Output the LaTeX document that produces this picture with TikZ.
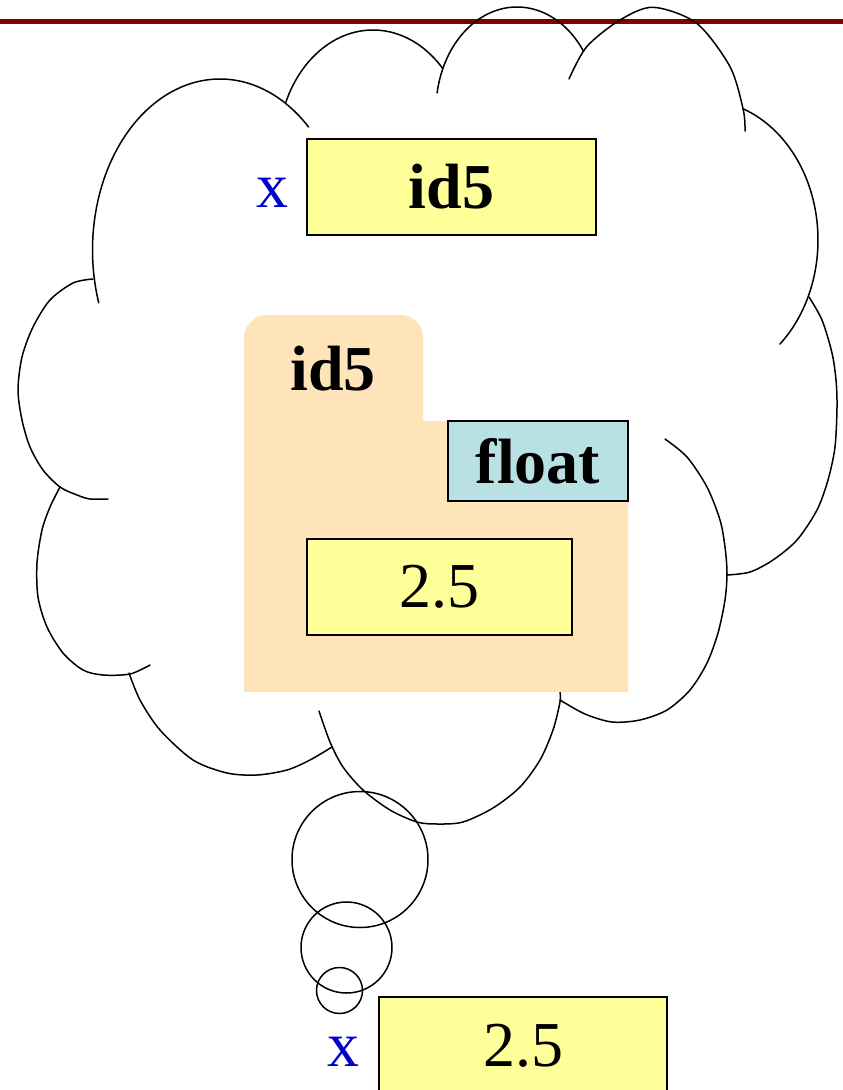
\documentclass[tikz,border=0pt]{standalone}
\usepackage{fontspec}
\setmainfont{Liberation Serif}
\definecolor{rulered}{RGB}{128,0,0}
\definecolor{valyellow}{RGB}{255,255,153}
\definecolor{typeblue}{RGB}{185,224,227}
\definecolor{objorange}{RGB}{255,227,185}
\definecolor{varblue}{RGB}{0,0,204}
\tikzset{
  cloudline/.style={line width=1.5pt, line join=round, line cap=round},
  valbox/.style={draw, line width=1.5pt, fill=valyellow, inner sep=0pt},
  typebox/.style={draw, line width=1.5pt, fill=typeblue, inner sep=0pt},
  varname/.style={text=varblue, inner sep=0pt},
  bigtext/.style={font=\fontsize{64}{72}\selectfont},
}
\begin{document}
\begin{tikzpicture}[x=1pt, y=-1pt]
\useasboundingbox (0,0) rectangle (843,1090);
\clip (0,0) rectangle (843,1090);
% top rule
\draw[rulered, line width=4.5pt] (0,21.5) -- (843,21.5);
% cloud bumps (elliptical arcs)
\draw[cloudline] plot[domain=162:314, samples=90, variable=\t] ({220+127.5*cos(\t)}, {250+171*sin(\t)});
\draw[cloudline] plot[domain=203.4:317.2, samples=70, variable=\t] ({373+95*cos(\t)}, {150+120*sin(\t)});
\draw[cloudline] plot[domain=189.5:325.4, samples=80, variable=\t] ({517+81*cos(\t)}, {110+103*sin(\t)});
\draw[cloudline] plot[smooth] coordinates {(569,79) (586.7,46.7) (620,20) (653.3,7.3) (696.7,23.3) (730,66.7) (743.3,110) (745,131)};
\draw[cloudline] plot[domain=-69.5:48, samples=80, variable=\t] ({703+115*cos(\t)}, {240+140*sin(\t)});
\draw[cloudline] plot[smooth] coordinates {(809,297) (822,320) (832,353) (836,380) (837,407) (835,447) (828,480) (817,510) (797,540) (773,560) (750,572) (727,575)};
\draw[cloudline] plot[smooth] coordinates {(665,439) (687,457) (707,487) (720,520) (725,547) (727,573) (725,600) (718,633) (707,663) (690,690) (667,710) (640,720) (612,722) (585,714) (560,700)};
\draw[cloudline] plot[smooth] coordinates {(319,711) (330,742) (343,767) (363,790) (390,810) (417,822) (438,824) (463,822) (493,808) (520,787) (540,760) (553,730) (560,702) (560,692)};
\draw[cloudline] plot[smooth] coordinates {(332,747) (310,760) (287,770) (257,775) (227,773) (193,760) (160,730) (140,700) (129,673)};
\draw[cloudline] plot[smooth] coordinates {(60,487) (50,507) (42,530) (37,563) (38,597) (47,627) (63,653) (83,670) (103,675) (130,674) (150,665)};
\draw[cloudline] plot[smooth] coordinates {(93,279) (73,283) (50,300) (33,327) (22,357) (18,390) (22,420) (30,447) (43,470) (60,487) (77,495) (90,499) (108,499)};
% thought bubbles
\draw[cloudline] (360,859.5) circle[radius=68];
\draw[cloudline] (346.5,947.5) circle[radius=45.5];
\draw[cloudline] (339.5,990.5) circle[radius=23];
% object folder
\fill[objorange] (244,692) -- (244,337) .. controls (244,325) and (256,315) .. (266,315) -- (401,315) .. controls (413,315) and (423,325) .. (423,337) -- (423,421) -- (628,421) -- (628,692) -- cycle;
% nodes
\node[varname, bigtext] (xtop) at (272,192.5) {x};
\node[valbox, bigtext, minimum width=289pt, minimum height=96pt] (boxtop) at (451.5,187) {\bfseries id5};
\node[bigtext, inner sep=0pt, anchor=base] (objid) at (333,390) {\bfseries id5};
\node[typebox, bigtext, minimum width=180pt, minimum height=80pt] (ftype) at (538,461) {\bfseries float};
\node[valbox, bigtext, minimum width=265pt, minimum height=96pt] (inval) at (439.5,587) {2.5};
\node[varname, bigtext] (xbot) at (343,1052) {x};
\node[valbox, bigtext, minimum width=288pt, minimum height=98pt] (boxbot) at (523,1046) {2.5};
\end{tikzpicture}
\end{document}
